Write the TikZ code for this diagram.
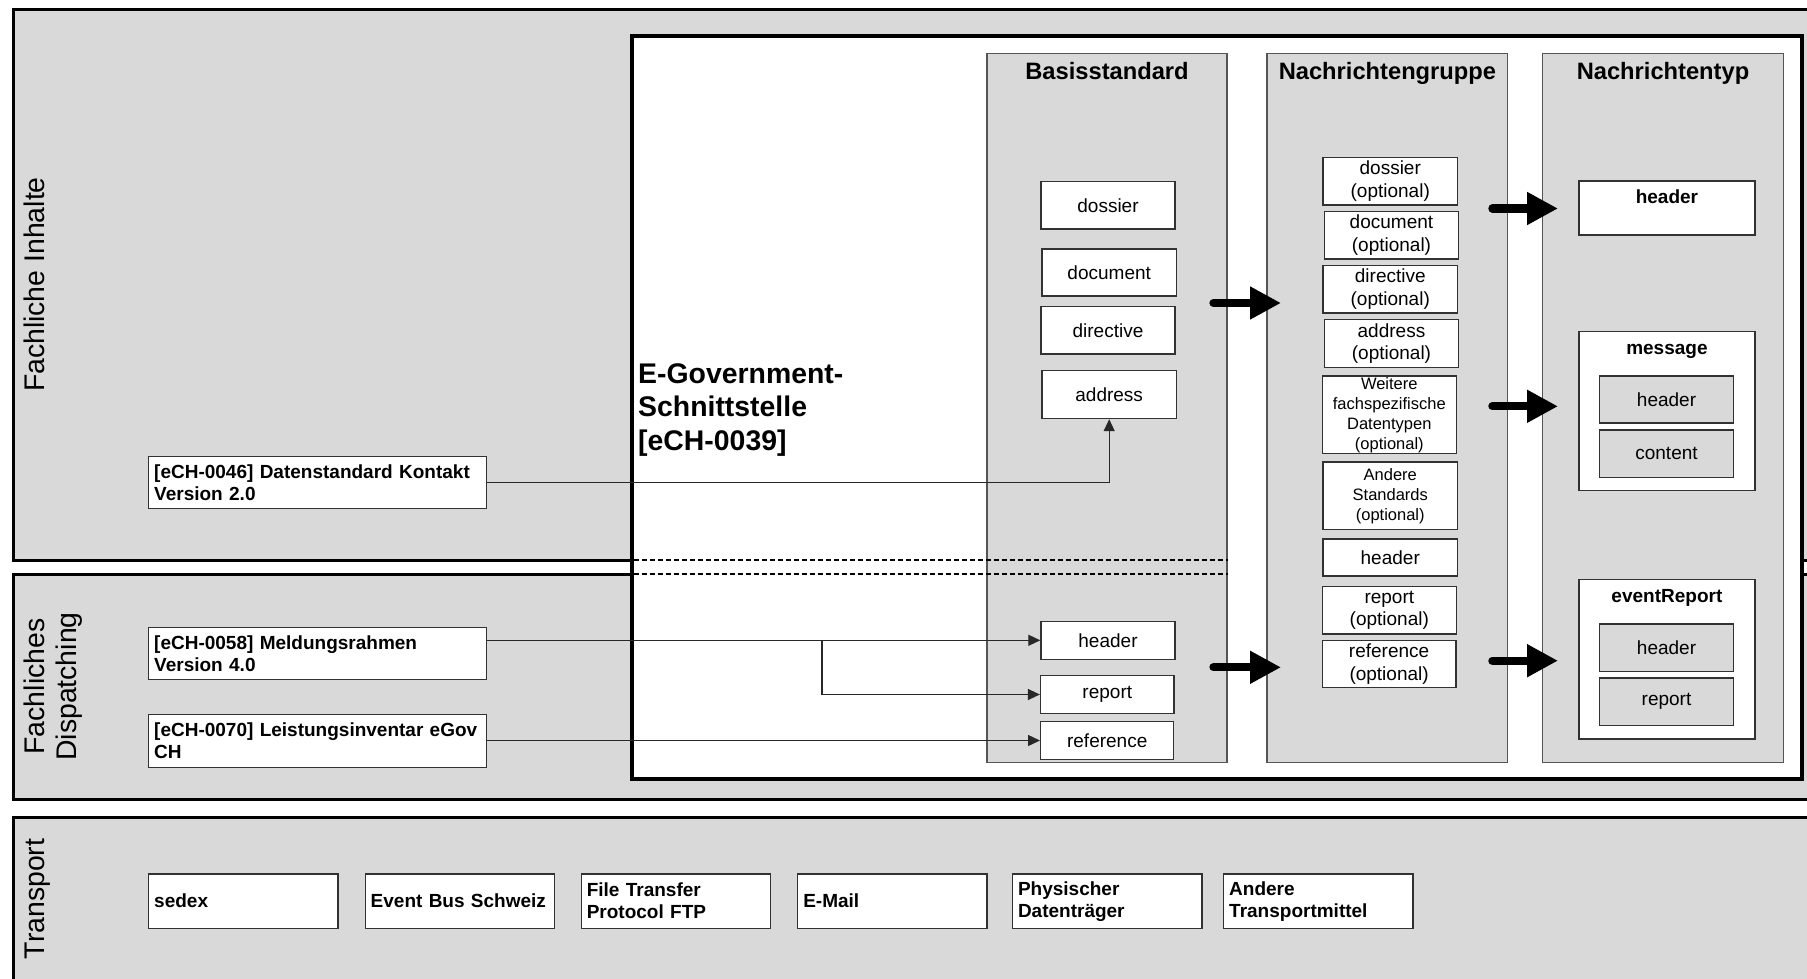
\documentclass[tikz,border=0pt]{standalone}
\usepackage{fontspec}
\setmainfont{Liberation Sans}
\usetikzlibrary{arrows.meta}
\definecolor{panelgray}{RGB}{217,217,217}
\definecolor{boxedge}{RGB}{50,50,50}
\definecolor{coledge}{RGB}{85,85,85}
\definecolor{connline}{RGB}{40,40,40}
\begin{document}
\begin{tikzpicture}[x=1pt,y=-1pt,
  panel/.style={fill=panelgray,draw=black,line width=3pt},
  egovbox/.style={draw=black,fill=white,line width=4pt,inner sep=0pt},
  colbox/.style={draw=coledge,fill=panelgray,line width=1.2pt,inner sep=0pt,minimum height=708.6pt},
  coltitle/.style={font=\fontsize{23.7}{27}\selectfont\bfseries,inner sep=0pt},
  wbox/.style={draw=boxedge,fill=white,line width=1.4pt,inner sep=0pt,align=center,font=\fontsize{19}{22.5}\selectfont},
  smallbox/.style={wbox,font=\fontsize{16.5}{20}\selectfont},
  gbox/.style={wbox,fill=panelgray},
  lbox/.style={draw=boxedge,fill=white,line width=1.4pt,inner xsep=5.5pt,inner ysep=0pt,align=left,font=\fontsize{19}{22}\selectfont\bfseries},
  ntitle/.style={font=\fontsize{19}{22}\selectfont\bfseries,inner sep=0pt,anchor=base},
  sidelabel/.style={font=\fontsize{28.4}{32}\selectfont,rotate=90,anchor=base,inner sep=0pt},
  egovtext/.style={font=\fontsize{28.4}{33}\selectfont\bfseries,anchor=base west,inner sep=0pt},
  dashline/.style={draw=black,line width=2.7pt,dash pattern=on 4.5pt off 3.5pt},
  conn/.style={draw=connline,line width=1.3pt,-{Triangle[length=12pt,width=11pt]}},
  bigarrow/.style={draw=black,line width=8.3pt,line cap=round,-{Triangle[length=31pt,width=31pt]}}
]
\useasboundingbox (0,0) rectangle (1807,979);
\begin{scope}
\clip (0,0) rectangle (1807,979);
\draw[panel] (13.4,9.3) rectangle (1840,560);
\draw[panel] (13.4,574) rectangle (1840,799.3);
\draw[panel] (13.4,817.7) rectangle (1840,983);
\end{scope}

% side labels
\node[sidelabel] (lblA) at (44.6,284.6) {Fachliche Inhalte};
\node[sidelabel] (lblB1) at (44.6,686.5) {Fachliches};
\node[sidelabel] (lblB2) at (76.1,686.5) {Dispatching};
\node[sidelabel] (lblC) at (44.6,899) {Transport};

% big interface box
\node[egovbox,minimum width=1170.3pt,minimum height=743pt] (egov) at (1216.85,407.8) {};
\node[egovtext] (eg1) at (638,383.5) {E-Government-};
\node[egovtext] (eg2) at (638,416.8) {Schnittstelle};
\node[egovtext] (eg3) at (638,450.1) {[eCH-0039]};

% columns
\node[colbox,minimum width=240pt] (bs) at (1107,408) {};
\node[colbox,minimum width=240.8pt] (ng) at (1387.4,408) {};
\node[colbox,minimum width=240.8pt] (nt) at (1663,408) {};

% dashed continuation of the layer borders
\draw[dashline] (634,560) -- (1228,560);
\draw[dashline] (634,574) -- (1228,574);

\node[coltitle,anchor=base] (bsT) at (1107,80) {Basisstandard};
\node[coltitle,anchor=base] (ngT) at (1387.4,80) {Nachrichtengruppe};
\node[coltitle,anchor=base] (ntT) at (1663,80) {Nachrichtentyp};

% Basisstandard boxes
\node[wbox,minimum width=134pt,minimum height=47.5pt] (bdos) at (1108,205.25) {dossier};
\node[wbox,minimum width=134.3pt,minimum height=47pt] (bdoc) at (1109.2,272.5) {document};
\node[wbox,minimum width=134pt,minimum height=47.3pt] (bdir) at (1108,330.35) {directive};
\node[wbox,minimum width=134.3pt,minimum height=47.8pt] (baddr) at (1109.2,394.6) {address};
\node[wbox,minimum width=134pt,minimum height=38pt] (bhdr) at (1108,640.3) {header};
\node[wbox,minimum width=133.4pt,minimum height=37.6pt] (brep) at (1107.3,694.5) {report};
\node[wbox,minimum width=133pt,minimum height=37.6pt] (bref) at (1107.2,740.5) {reference};

% Nachrichtengruppe boxes
\node[wbox,minimum width=134.5pt,minimum height=47.4pt] (gdos) at (1390.25,181.1) {dossier\\(optional)};
\node[wbox,minimum width=134.3pt,minimum height=47.4pt] (gdoc) at (1391.45,235.2) {document\\(optional)};
\node[wbox,minimum width=134.5pt,minimum height=47.4pt] (gdir) at (1390.25,289.3) {directive\\(optional)};
\node[wbox,minimum width=134.3pt,minimum height=47.8pt] (gaddr) at (1391.45,343.5) {address\\(optional)};
\node[smallbox,minimum width=134pt,minimum height=77.7pt] (gwei) at (1389.3,414.85) {Weitere\\fachspezifische\\Datentypen\\(optional)};
\node[smallbox,minimum width=134.5pt,minimum height=67.7pt] (gand) at (1390.25,495.75) {Andere\\Standards\\(optional)};
\node[wbox,minimum width=134.5pt,minimum height=37.1pt] (ghdr) at (1390.25,557.45) {header};
\node[wbox,minimum width=134pt,minimum height=47.3pt] (grep) at (1389.3,610.35) {report\\(optional)};
\node[wbox,minimum width=133.6pt,minimum height=47.4pt] (gref) at (1389.1,664) {reference\\(optional)};

% Nachrichtentyp boxes
\node[wbox,minimum width=175.8pt,minimum height=54pt] (thdr) at (1666.9,208) {};
\node[ntitle] (thdrT) at (1666.9,203.7) {header};
\node[wbox,minimum width=175.8pt,minimum height=159.2pt] (tmsg) at (1666.9,411.1) {};
\node[ntitle] (tmsgT) at (1666.9,354) {message};
\node[gbox,minimum width=134pt,minimum height=47pt] (tmh) at (1666.5,399.5) {header};
\node[gbox,minimum width=134pt,minimum height=47.4pt] (tmc) at (1666.5,453.7) {content};
\node[wbox,minimum width=175.8pt,minimum height=159.3pt] (tev) at (1666.9,659.35) {};
\node[ntitle] (tevT) at (1666.9,602.7) {eventReport};
\node[gbox,minimum width=134pt,minimum height=47.3pt] (teh) at (1666.5,647.65) {header};
\node[gbox,minimum width=134pt,minimum height=47.3pt] (ter) at (1666.5,701.65) {report};

% left standard boxes
\node[lbox,text width=326.9pt,minimum height=52.2pt] (e46) at (317.65,482.4) {[eCH-0046] Datenstandard Kontakt\\Version 2.0};
\node[lbox,text width=326.9pt,minimum height=52pt] (e58) at (317.65,653.3) {[eCH-0058] Meldungsrahmen\\Version 4.0};
\node[lbox,text width=326.9pt,minimum height=52.6pt] (e70) at (317.65,741) {[eCH-0070] Leistungsinventar eGov\\CH};

% transport boxes
\node[lbox,text width=178.3pt,minimum height=54.3pt] (tsedex) at (243.35,901.15) {sedex};
\node[lbox,text width=178.3pt,minimum height=54.3pt] (tebus) at (459.85,901.15) {Event Bus Schweiz};
\node[lbox,text width=178.3pt,minimum height=54.3pt] (tftp) at (675.9,901.15) {File Transfer\\Protocol FTP};
\node[lbox,text width=178.3pt,minimum height=54.3pt] (tmail) at (892.4,901.15) {E-Mail};
\node[lbox,text width=178.3pt,minimum height=54.3pt] (tphys) at (1107.15,901.15) {Physischer\\Datenträger};
\node[lbox,text width=178.3pt,minimum height=54.3pt] (tand) at (1318.35,901.15) {Andere\\Transportmittel};

% thin connectors
\draw[conn] (e46.east) -| (baddr.south);
\draw[conn] (e58.east |- bhdr.west) -- (bhdr.west);
\coordinate (split) at (821.9,640.3);
\draw[conn] (split) |- (brep.west);
\draw[conn] (e70.east |- bref.west) -- (bref.west);

% big arrows
\coordinate (A1s) at (1213.5,303);
\coordinate (A1e) at (1281,303);
\coordinate (A2s) at (1213.5,667.3);
\coordinate (A2e) at (1281,667.3);
\coordinate (B1s) at (1492.4,208.5);
\coordinate (B1e) at (1558,208.5);
\coordinate (B2s) at (1492.4,406.3);
\coordinate (B2e) at (1558,406.3);
\coordinate (B3s) at (1492.4,660.7);
\coordinate (B3e) at (1558,660.7);
\draw[bigarrow] (A1s) -- (A1e);
\draw[bigarrow] (A2s) -- (A2e);
\draw[bigarrow] (B1s) -- (B1e);
\draw[bigarrow] (B2s) -- (B2e);
\draw[bigarrow] (B3s) -- (B3e);
\end{tikzpicture}
\end{document}
